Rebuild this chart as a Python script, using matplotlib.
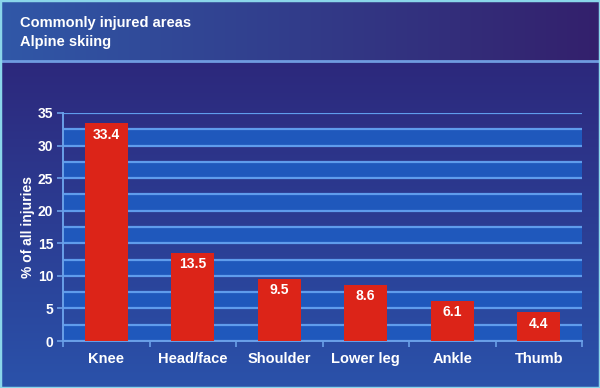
import numpy as np
import matplotlib
matplotlib.use("Agg")
import matplotlib.pyplot as plt
from matplotlib.colors import to_rgb

# data
areas = ["Knee", "Head/face", "Shoulder", "Lower leg", "Ankle", "Thumb"]
pct = [33.4, 13.5, 9.5, 8.6, 6.1, 4.4]
yticks = [0, 5, 10, 15, 20, 25, 30, 35]

plt.rcParams["font.family"] = ["Liberation Sans", "DejaVu Sans"]
plt.rcParams["font.weight"] = "bold"

W, H = 600, 388
fig = plt.figure(figsize=(6, 3.88), dpi=100)

# background: header band + lower panel gradients
img = np.zeros((H, W, 3))
hdr = 61
l, r = np.array(to_rgb("#3058a8")), np.array(to_rgb("#34206c"))
t = np.linspace(0, 1, W)[None, :, None]
img[:hdr] = l * (1 - t) + r * t
top, bot = np.array(to_rgb("#2d287c")), np.array(to_rgb("#2a52aa"))
s = np.linspace(0, 1, H - hdr)[:, None, None]
img[hdr:] = top * (1 - s) + bot * s
bg = fig.add_axes([0, 0, 1, 1], zorder=-10)
bg.imshow(img, extent=[0, 1, 0, 1], aspect="auto", interpolation="bilinear")
bg.axhline(1 - hdr / H, color="#6f9be0", lw=2)
for sp in bg.spines.values():
    sp.set_color("#8ad6ea")
    sp.set_linewidth(2.5)
bg.set_xticks([])
bg.set_yticks([])

fig.text(0.034, 0.94, "Commonly injured areas", color="white", fontsize=10.5,
         fontweight="bold", va="center")
fig.text(0.034, 0.892, "Alpine skiing", color="white", fontsize=10.5,
         fontweight="bold", va="center")

ax = fig.add_axes([0.105, 0.1211, 0.865, 0.5877])
ax.set_facecolor("none")
x = np.arange(len(areas))

# alternating blue bands
for lo in np.arange(0, 35, 5):
    ax.axhspan(lo, lo + 2.5, color="#1f58bc", lw=0, zorder=0)

ax.set_ylim(0, 35)
ax.set_xlim(-0.5, len(areas) - 0.5)
ax.set_yticks(yticks)
ax.set_yticks(np.arange(0, 35.1, 2.5), minor=True)
ax.grid(True, axis="y", which="both", color="#5f9cec", lw=1.6, zorder=1)
ax.set_axisbelow(True)

bars = ax.bar(x, pct, width=0.5, color="#dc2418", zorder=3)
for xi, v in zip(x, pct):
    ax.annotate(f"{v}", (xi, v), xytext=(0, -3), textcoords="offset points",
                ha="center", va="top", color="white", fontsize=10,
                fontweight="bold", zorder=4)

ax.set_xticks(x)
ax.set_xticklabels(areas)
ax.set_xticks(np.arange(-0.5, len(areas), 1), minor=True)
ax.tick_params(axis="x", which="major", length=0, pad=8, labelcolor="white",
               labelsize=10.5)
ax.tick_params(axis="x", which="minor", length=4, color="#6aa0e8", width=1.2)
ax.tick_params(axis="y", which="major", length=4, color="#6aa0e8", width=1.2,
               labelcolor="white", labelsize=10, pad=3)
ax.tick_params(axis="y", which="minor", length=0)
for lab in ax.get_xticklabels() + ax.get_yticklabels():
    lab.set_fontweight("bold")

for k in ["top", "right"]:
    ax.spines[k].set_visible(False)
for k in ["left", "bottom"]:
    ax.spines[k].set_color("#6aa0e8")
    ax.spines[k].set_linewidth(1.4)

ax.set_ylabel("% of all injuries", color="white", fontsize=10,
              fontweight="bold", labelpad=2)

fig.savefig("out.png", dpi=100)
